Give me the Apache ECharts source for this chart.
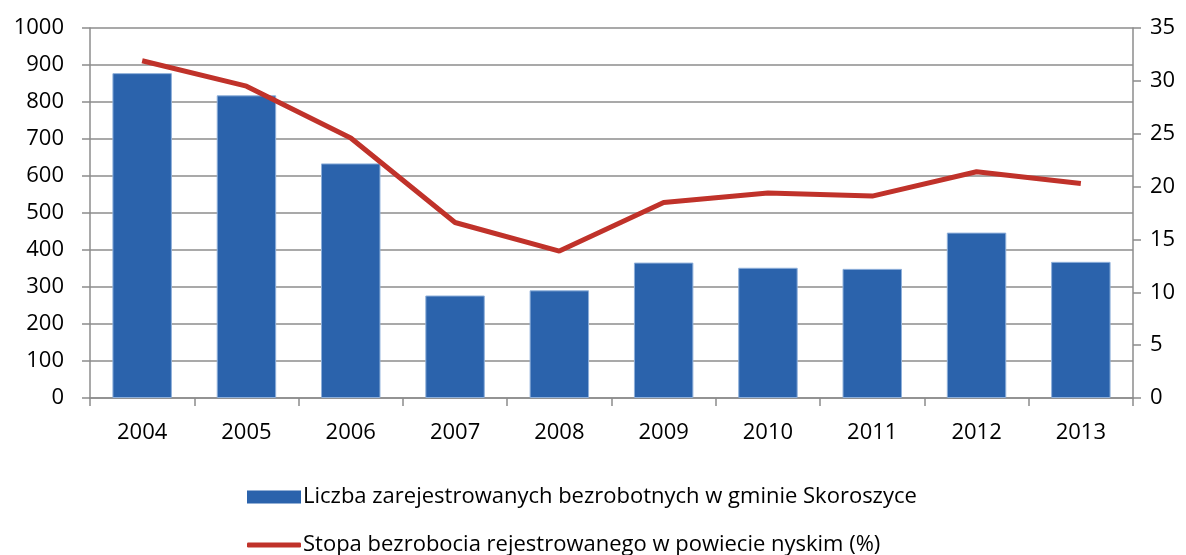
<!DOCTYPE html>
<html>
<head>
<meta charset="utf-8">
<script src="https://cdn.jsdelivr.net/npm/echarts@6/dist/echarts.min.js"></script>
<style>
  html, body { margin: 0; padding: 0; background: #fff; }
  #chart { width: 1186px; height: 555px; }
</style>
</head>
<body>
<div id="chart"></div>
<script>
// lata
var years = ['2004', '2005', '2006', '2007', '2008', '2009', '2010', '2011', '2012', '2013'];
// liczba bezrobotnych (lewa oś)
var unemployedCount = [878, 818, 634, 277, 291, 366, 352, 349, 447, 368];
// stopa bezrobocia w % (prawa oś)
var unemploymentRate = [31.9, 29.5, 24.6, 16.6, 13.9, 18.5, 19.4, 19.1, 21.4, 20.3];

var barName = 'Liczba zarejestrowanych bezrobotnych w gminie Skoroszyce';
var lineName = 'Stopa bezrobocia rejestrowanego w powiecie nyskim (%)';

var font = '"Open Sans", "Noto Sans", sans-serif';
var gridColor = '#8c8c8c';
var fs = 22;

var chart = echarts.init(document.getElementById('chart'));

var option = {
    animation: false,
    textStyle: { fontFamily: font },
    grid: {
        left: 90,
        right: 53,
        top: 28,
        bottom: 157,
        containLabel: false
    },
    legend: [
        {
            left: 242,
            top: 481,
            itemWidth: 54,
            itemHeight: 13,
            itemGap: 0,
            itemStyle: { borderWidth: 0 },
            textStyle: { fontSize: fs, color: '#000', fontFamily: font, padding: [0, 0, 0, -3] },
            data: [{ name: barName, icon: 'rect' }]
        },
        {
            left: 242,
            top: 529,
            itemWidth: 54,
            itemHeight: 5,
            itemGap: 0,
            textStyle: { fontSize: fs, color: '#000', fontFamily: font, padding: [0, 0, 0, -3] },
            data: [{ name: lineName, icon: 'roundRect' }]
        }
    ],
    xAxis: {
        type: 'category',
        data: years,
        axisLine: { lineStyle: { color: gridColor, width: 1.5 } },
        axisTick: { show: true, alignWithLabel: false, length: 8, lineStyle: { color: gridColor, width: 1.5 } },
        axisLabel: { fontSize: fs, color: '#000', margin: 24, fontFamily: font }
    },
    yAxis: [
        {
            type: 'value',
            min: 0,
            max: 1000,
            interval: 100,
            axisLine: { show: true, lineStyle: { color: gridColor, width: 1.5 } },
            axisTick: { show: true, length: 8, lineStyle: { color: gridColor, width: 1.5 } },
            axisLabel: { fontSize: fs, color: '#000', margin: 26, fontFamily: font, formatter: function (v) { return String(v); } },
            splitLine: { lineStyle: { color: gridColor, width: 1.5 } }
        },
        {
            type: 'value',
            min: 0,
            max: 35,
            interval: 5,
            position: 'right',
            axisLine: { show: true, lineStyle: { color: gridColor, width: 1.5 } },
            axisTick: { show: true, length: 8, lineStyle: { color: gridColor, width: 1.5 } },
            axisLabel: { fontSize: fs, color: '#000', margin: 17, fontFamily: font },
            splitLine: { show: false }
        }
    ],
    series: [
        {
            name: barName,
            type: 'bar',
            yAxisIndex: 0,
            barWidth: '57%',
            data: unemployedCount,
            itemStyle: { color: '#2b63ac', borderColor: '#8fb0da', borderWidth: 1 }
        },
        {
            name: lineName,
            type: 'line',
            yAxisIndex: 1,
            data: unemploymentRate,
            symbol: 'none',
            lineStyle: { color: '#c0322a', width: 5 },
            itemStyle: { color: '#c0322a' }
        }
    ]
};

chart.setOption(option);
</script>
</body>
</html>
